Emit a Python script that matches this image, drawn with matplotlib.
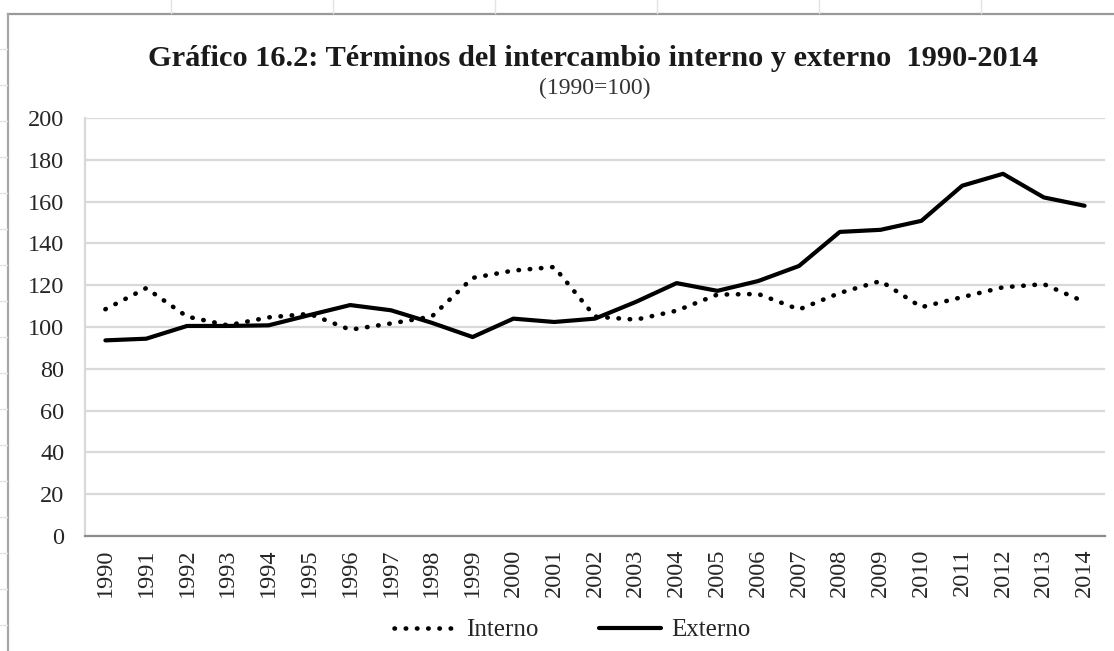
import numpy as np
from matplotlib import pyplot as plt
from matplotlib.lines import Line2D

plt.rcParams.update({"font.family": "Liberation Serif",
                     "font.size": 17,
                     "text.color": "#262626",
                     "xtick.color": "#262626",
                     "ytick.color": "#262626"})

# data
years = [str(y) for y in range(1990, 2015)]
interno = [108.5, 118.6, 105.0, 100.8, 104.6, 106.3, 98.7, 101.7, 105.0, 123.5,
           127.0, 128.7, 105.0, 103.5, 107.8, 115.5, 115.8, 108.4, 116.3, 122.0,
           109.5, 114.3, 119.0, 120.5, 112.0]
externo = [93.6, 94.4, 100.5, 100.5, 100.8, 105.7, 110.5, 108.0, 102.0, 95.2,
           104.0, 102.4, 104.0, 112.0, 121.0, 117.3, 122.0, 129.2, 145.5, 146.5,
           150.8, 167.6, 173.3, 162.0, 158.0]
yticks = list(range(0, 201, 20))

title = "Gráfico 16.2: Términos del intercambio interno y externo  1990-2014"
subtitle = "(1990=100)"

W, H = 1114, 651
fig = plt.figure(figsize=(W / 100, H / 100), dpi=100)

# spreadsheet frame around the chart
fig.add_artist(Line2D([8 / W, 1], [1 - 14 / H, 1 - 14 / H], color="#999999", lw=1.6))
fig.add_artist(Line2D([8 / W, 8 / W], [0, 1 - 14 / H], color="#a6a6a6", lw=1.6))
for xc in np.arange(171, W, 162):
    fig.add_artist(Line2D([xc / W, xc / W], [1 - 13 / H, 1], color="#e3e3e3", lw=1))
for yc in np.arange(49, H, 36):
    fig.add_artist(Line2D([0, 7 / W], [1 - yc / H, 1 - yc / H], color="#e3e3e3", lw=1))

ax = fig.add_axes([85 / W, 1 - 536 / H, (1105 - 85) / W, (536 - 118) / H])
x = np.arange(len(years))
ax.plot(x, interno, color="black", lw=3.3, linestyle=(0, (0.1, 2.35)),
        dash_capstyle="round", label="Interno")
ax.plot(x, externo, color="black", lw=3.0, solid_joinstyle="round",
        solid_capstyle="round", label="Externo")

ax.set_xlim(-0.5, len(years) - 0.5)
ax.set_ylim(0, 200)
ax.set_yticks(yticks)
ax.set_xticks(x)
ax.set_xticklabels(years, rotation=90)
ax.tick_params(axis="y", length=0, pad=15, labelsize=17.5)
ax.tick_params(axis="x", length=0, pad=9, labelsize=17.5)
ax.grid(axis="y", color="#d9d9d9", lw=1.6)
ax.set_axisbelow(True)
for s in ["top", "right"]:
    ax.spines[s].set_visible(False)
ax.spines["left"].set_color("#d9d9d9")
ax.spines["left"].set_linewidth(1.6)
ax.spines["bottom"].set_color("#8c8c8c")
ax.spines["bottom"].set_linewidth(1.6)

fig.text(593 / W, 1 - 58 / H, title, ha="center", va="center",
         fontsize=21.9, fontweight="bold", color="#1a1a1a")
fig.text(595 / W, 1 - 88 / H, subtitle, ha="center", va="center",
         fontsize=17, color="#333333")

fig.legend(loc="center", bbox_to_anchor=(572 / W, 1 - 630 / H), ncol=2,
           frameon=False, fontsize=18, handlelength=2.5, handletextpad=0.4,
           columnspacing=2.4)

fig.savefig("out.png", dpi=100)
